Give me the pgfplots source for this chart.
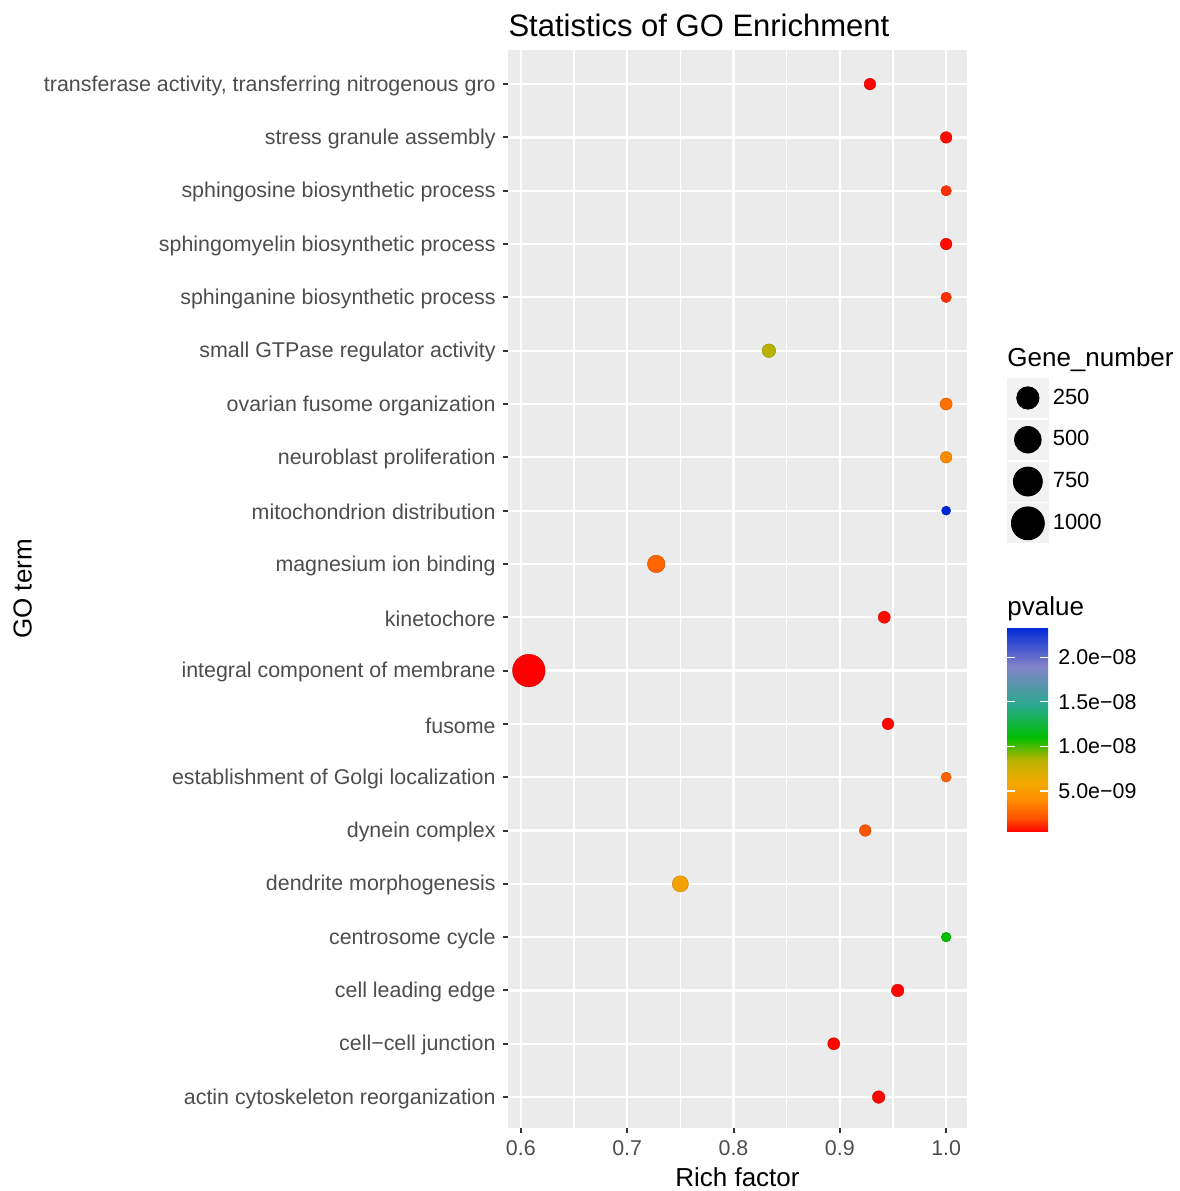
\documentclass[border=0pt]{standalone}
\usepackage{pgfplots}
\pgfplotsset{compat=1.18}
\usepackage{pgfplotstable}
\usepackage{fontspec}
\setmainfont{Liberation Sans}
\definecolor{panelbg}{RGB}{235,235,235}
\definecolor{keybg}{RGB}{242,242,242}
\definecolor{gray30}{RGB}{77,77,77}
\definecolor{gray20}{RGB}{51,51,51}

% x = Rich factor, y = category index (1 = bottom), p = pvalue in units of 1e-9, n = Gene_number
\pgfplotstableread{
x y p n
0.9283 20 0.5 18
1.0 19 0.6 18
1.0 18 1.3 8
1.0 17 0.6 18
1.0 16 1.3 8
0.8333 15 8.5 47
1.0 14 3.0 24
1.0 13 4.0 18
1.0 12 23.4 1
0.7273 11 2.6 146
0.9418 10 0.6 24
0.6075 9 0.4 1013
0.9453 8 0.5 18
1.0 7 2.5 5
0.9239 6 2.0 18
0.75 5 5.5 105
1.0 4 11.0 3
0.9544 3 0.5 30
0.8943 2 0.5 24
0.9365 1 0.5 30
}\godata

\begin{document}
\begin{tikzpicture}
\useasboundingbox (-254pt,-31.5pt) rectangle (336pt,564pt);
\begin{axis}[
  at={(0pt,0pt)}, anchor=south west,
  scale only axis, width=229.5pt, height=539pt,
  xmin=0.5879, xmax=1.0196, ymin=0.42, ymax=20.64,
  axis background/.style={fill=panelbg},
  axis line style={draw=none},
  grid=both,
  major grid style={white, line width=1.1pt},
  minor grid style={white, line width=0.55pt},
  xtick={0.6,0.7,0.8,0.9,1.0},
  xticklabels={0.6,0.7,0.8,0.9,1.0},
  minor xtick={0.65,0.75,0.85,0.95},
  ytick={1,...,20},
  yticklabels={actin cytoskeleton reorganization, cell−cell junction, cell leading edge, centrosome cycle, dendrite morphogenesis, dynein complex, establishment of Golgi localization, fusome, integral component of membrane, kinetochore, magnesium ion binding, mitochondrion distribution, neuroblast proliferation, ovarian fusome organization, small GTPase regulator activity, sphinganine biosynthetic process, sphingomyelin biosynthetic process, sphingosine biosynthetic process, stress granule assembly, {transferase activity, transferring nitrogenous gro}},
  tick align=outside, tick pos=left,
  major tick length=2.5pt, minor tick length=0pt,
  tick style={gray20, line width=1pt},
  ticklabel style={font=\fontsize{10.7}{12}\selectfont, text=gray30},
  xticklabel style={inner sep=0pt, yshift=-3.5pt},
  yticklabel style={inner sep=0pt, xshift=-3.5pt, yshift=-0.8pt},
  title={Statistics of GO Enrichment},
  title style={at={(0.416,1)}, anchor=base, yshift=1pt, font=\fontsize{15.5}{18}\selectfont, inner sep=0pt},
  xlabel={Rich factor},
  xlabel style={at={(axis description cs:0.5,0)}, anchor=base, yshift=-29pt, font=\fontsize{13}{15}\selectfont, inner sep=0pt},
  ylabel={GO term},
  ylabel style={at={(axis description cs:-1.0381,0.5)}, anchor=base, font=\fontsize{13}{15}\selectfont, inner sep=0pt},
  colormap={gomap}{rgb255(4pt)=(255,0,0) rgb255(20pt)=(255,85,0) rgb255(40pt)=(255,140,0) rgb255(60pt)=(242,170,0) rgb255(85pt)=(185,178,0) rgb255(110pt)=(0,190,0) rgb255(145pt)=(40,170,140) rgb255(190pt)=(130,130,200) rgb255(234pt)=(0,40,215)},
  point meta min=0.4, point meta max=23.4,
  colorbar,
  colorbar/width=20.5pt,
  colorbar style={
    at={(parent axis.south east)}, anchor=south west,
    xshift=11.5pt, yshift=148pt,
    scale only axis, width=20.5pt, height=102.5pt,
    ytick={5,10,15,20},
    yticklabels={5.0e−09,1.0e−08,1.5e−08,2.0e−08},
    tick align=inside, major tick length=4pt,
    tick style={white, line width=0.6pt},
    ytick pos=both, yticklabel pos=right,
    yticklabel style={font=\fontsize{10.7}{12}\selectfont, text=black, inner sep=0pt, xshift=5pt},
    axis line style={draw=none},
    title={pvalue},
    title style={at={(0,1)}, anchor=base west, yshift=0pt, font=\fontsize{13}{15}\selectfont, inner sep=0pt},
  },
  legend style={at={(1.0871,0.6957)}, anchor=north west, draw=none, fill=none, inner sep=0pt, outer sep=0pt, row sep=1pt, font=\fontsize{11}{13}\selectfont, /tikz/every even column/.append style={column sep=2.5pt}},
  legend cell align=left,
]
\addplot[scatter, only marks, mark=*, forget plot,
  scatter src=explicit,
  mark options={line width=0.2pt},
  visualization depends on={\thisrow{n} \as \gn},
  scatter/@pre marker code/.append style={/tikz/mark size={2.1+0.19*sqrt(\gn)}}]
  table[x=x, y=y, meta=p] {\godata};
\addlegendimage{legend image code/.code={\fill[keybg] (0pt,-9.75pt) rectangle (20.5pt,9.75pt); \fill[black] (10.25pt,0pt) circle (5.6pt);}}
\addlegendentry{250}
\addlegendimage{legend image code/.code={\fill[keybg] (0pt,-9.75pt) rectangle (20.5pt,9.75pt); \fill[black] (10.25pt,0pt) circle (6.65pt);}}
\addlegendentry{500}
\addlegendimage{legend image code/.code={\fill[keybg] (0pt,-9.75pt) rectangle (20.5pt,9.75pt); \fill[black] (10.25pt,0pt) circle (7.25pt);}}
\addlegendentry{750}
\addlegendimage{legend image code/.code={\fill[keybg] (0pt,-9.75pt) rectangle (20.5pt,9.75pt); \fill[black] (10.25pt,0pt) circle (8.25pt);}}
\addlegendentry{1000}
\end{axis}
\node[anchor=base west, font=\fontsize{13}{15}\selectfont, inner sep=0pt] at (249.5pt,380.5pt) {Gene\_number};
\end{tikzpicture}
\end{document}
